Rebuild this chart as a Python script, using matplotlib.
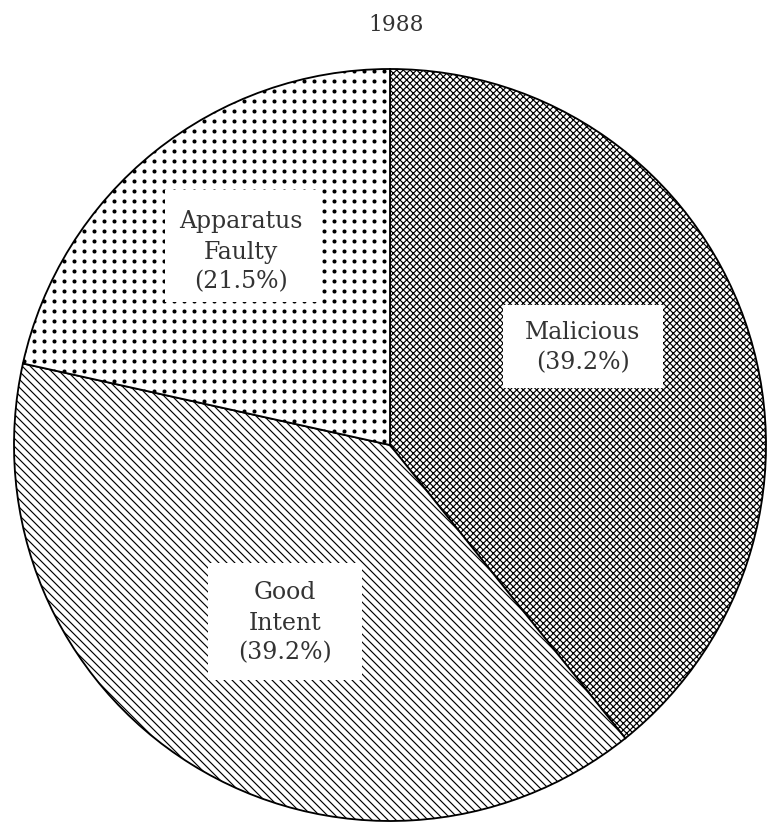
import numpy as np
import matplotlib.pyplot as plt
from matplotlib.patches import Rectangle

# causes of false alarms, 1988
causes = ['Malicious', 'Good\nIntent', 'Apparatus\nFaulty']
shares = [39.2, 39.2, 21.5]
hatches = ['xxxxxx', '\\\\\\\\\\', None]
title = '1988'

plt.rcParams['font.family'] = ['DejaVu Serif']
plt.rcParams['hatch.linewidth'] = 0.7
plt.rcParams['hatch.color'] = 'black'

fig = plt.figure(figsize=(6.4, 6.875), dpi=120)
W, H = 768, 825
CX, CY, R = 390, 445, 376
ax = fig.add_axes([(CX - R) / W, (H - CY - R) / H, 2 * R / W, 2 * R / H])

wedges, _ = ax.pie(shares, startangle=90, counterclock=False, radius=1,
                   colors=['white'] * 3,
                   wedgeprops=dict(edgecolor='black', linewidth=1.1))
ax.set_aspect('auto')
ax.set_xlim(-1, 1)
ax.set_ylim(-1, 1)
ax.axis('off')
for w, h in zip(wedges, hatches):
    if h:
        w.set_hatch(h)

# square dot screen for the last slice
step = 10 / R
gx, gy = np.meshgrid(np.arange(-1, 1, step), np.arange(-1, 1, step))
dots = ax.scatter(gx.ravel(), gy.ravel(), s=6, color='black', linewidths=0, zorder=3)
dots.set_clip_path(wedges[2])


def px_to_data(px, py):
    return (px - CX) / R, (CY - py) / R


# label boxes in pixel units: left, top, right, bottom
boxes = [(503, 305, 663, 388), (208, 563, 362, 680), (165, 190, 317, 302)]
text_centres = [(583, 348), (285, 623), (241, 252)]

for name, share, box, tc in zip(causes, shares, boxes, text_centres):
    x0, y0 = px_to_data(box[0], box[3])
    x1, y1 = px_to_data(box[2], box[1])
    ax.add_patch(Rectangle((x0, y0), x1 - x0, y1 - y0, facecolor='white',
                           edgecolor='none', zorder=4))
    tx, ty = px_to_data(*tc)
    ax.text(tx, ty, f'{name}\n({share}%)', ha='center', va='center',
            fontsize=14.2, color='#333333', linespacing=1.4, zorder=5)

fig.text(396 / W, 1 - 25 / H, title, ha='center', va='center', fontsize=13,
         color='#333333')

fig.savefig('out.png', dpi=120, facecolor='white')
